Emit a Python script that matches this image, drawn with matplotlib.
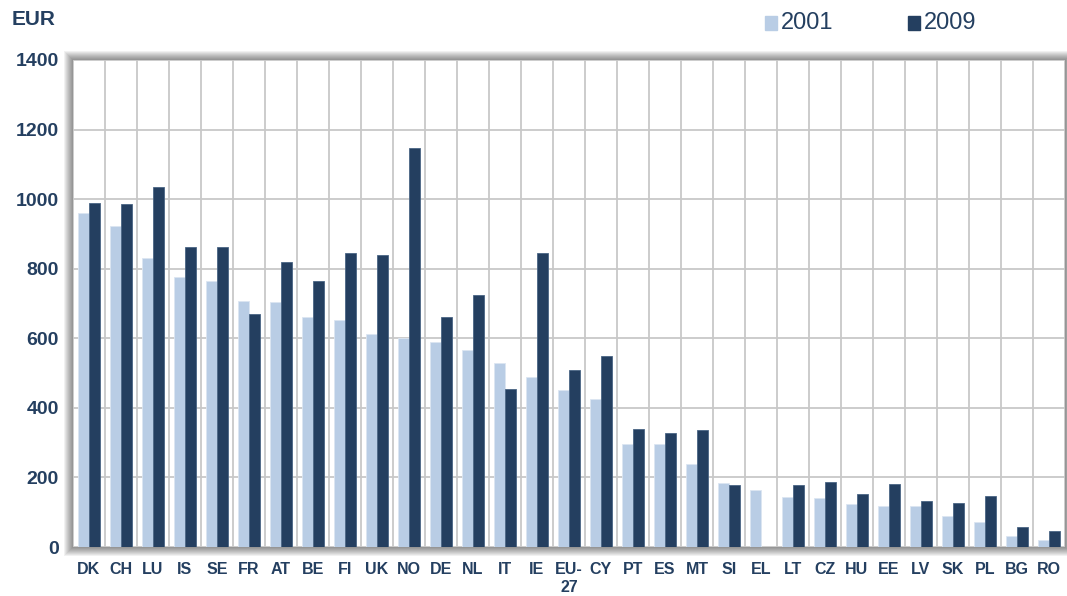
import matplotlib
matplotlib.use("Agg")
import matplotlib.pyplot as plt
import numpy as np
from matplotlib.patches import Rectangle

plt.rcParams['font.family'] = ['Liberation Sans', 'DejaVu Sans']

categories = ["DK", "CH", "LU", "IS", "SE", "FR", "AT", "BE", "FI", "UK", "NO", "DE", "NL", "IT", "IE",
              "EU-\n27", "CY", "PT", "ES", "MT", "SI", "EL", "LT", "CZ", "HU", "EE", "LV", "SK", "PL", "BG", "RO"]
v2001 = [960, 922, 830, 776, 765, 706, 703, 660, 652, 612, 600, 590, 565, 530, 490,
         450, 425, 297, 295, 240, 185, 165, 145, 140, 125, 118, 118, 90, 72, 32, 20]
v2009 = [988, 985, 1034, 862, 862, 670, 820, 765, 845, 838, 1147, 662, 725, 453, 845,
         508, 548, 340, 328, 335, 177, 0, 177, 188, 152, 180, 133, 126, 148, 57, 45]
yticks = [0, 200, 400, 600, 800, 1000, 1200, 1400]

light = "#b9cde5"
dark = "#243f60"
txt = "#243f60"
grid = "#c8c8c8"

W, H = 1067, 596
fig = plt.figure(figsize=(W / 100, H / 100), dpi=100)
L, B, R, T = 73, 49, 1065, 536  # pixel box of plot area (from bottom)
ax = fig.add_axes([L / W, B / H, (R - L) / W, (T - B) / H])
ax.set_zorder(2)

# blurred shadow around the plot area
for k in range(1, 10):
    fig.patches.append(Rectangle(((L - k) / W, (B - k) / H), (R - L + 2 * k) / W, (T - B + 2 * k) / H,
                                 transform=fig.transFigure, facecolor="black", edgecolor="none",
                                 alpha=0.055, zorder=-1))

n = len(categories)
x = np.arange(n)
w = 0.33
ax.bar(x - w / 2, v2001, width=w, color=light, edgecolor="#dce6f2", linewidth=0.6, label="2001", zorder=3)
ax.bar(x + w / 2, v2009, width=w, color=dark, edgecolor="#4a6585", linewidth=0.6, label="2009", zorder=3)

ax.set_xlim(-0.5, n - 0.5)
ax.set_ylim(0, 1400)
ax.set_yticks(yticks)
ax.set_yticklabels([str(t) for t in yticks], fontsize=14, fontweight="bold", color=txt)
ax.set_xticks(x)
ax.set_xticklabels(categories, fontsize=11.5, fontweight="bold", color=txt, linespacing=1.2, va="top")
ax.tick_params(axis="both", length=0)
ax.tick_params(axis="x", pad=11)
ax.tick_params(axis="y", pad=10)

for b in np.arange(-0.5, n, 1.0):
    ax.axvline(b, color=grid, lw=1.3, zorder=1)
for t in yticks:
    ax.axhline(t, color=grid, lw=1.3, zorder=1)

for s in ax.spines.values():
    s.set_visible(False)

fig.text(0.011, 0.968, "EUR", fontsize=15, fontweight="bold", color=txt, ha="left", va="center")

# legend
fig.patches.append(Rectangle((765 / W, 1 - 30 / H), 12 / W, 14 / H, transform=fig.transFigure, color=light))
fig.text(781 / W, 1 - 23 / H, "2001", fontsize=17, color=txt, ha="left", va="center")
fig.patches.append(Rectangle((908 / W, 1 - 30 / H), 12 / W, 14 / H, transform=fig.transFigure, color=dark))
fig.text(924 / W, 1 - 23 / H, "2009", fontsize=17, color=txt, ha="left", va="center")

fig.savefig("out.png", dpi=100)
